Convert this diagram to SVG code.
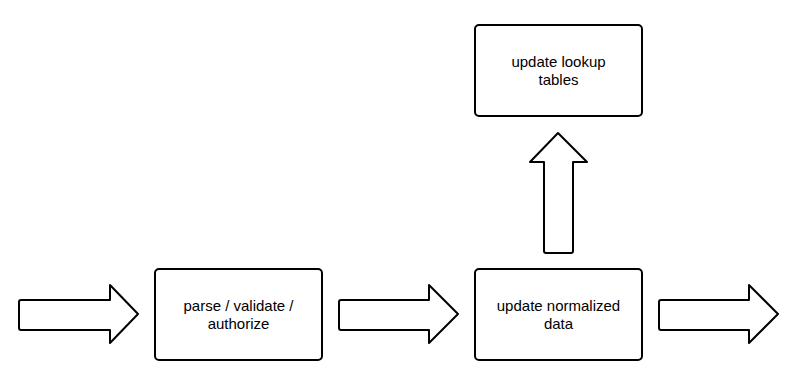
<svg xmlns="http://www.w3.org/2000/svg" width="800" height="381" viewBox="0 0 800 381">
<style>
.box{fill:#fff;stroke:#000;stroke-width:2}
.arr{fill:#fff;stroke:#000;stroke-width:2;stroke-linejoin:round}
.t{font-family:"Liberation Sans",Arial,sans-serif;font-size:15px;fill:#000;text-anchor:middle}
</style>
<rect width="800" height="381" fill="#fff"/>
<g id="connectors">
<path class="arr" d="M21,300 H110 V285 L138,314 L110,343 V330 H21 Q19,330 19,328 V302 Q19,300 21,300 Z"/>
<path class="arr" d="M341,300 H429 V285 L458,314 L429,343 V330 H341 Q339,330 339,328 V302 Q339,300 341,300 Z"/>
<path class="arr" d="M661,300 H749 V285 L778,314 L749,343 V330 H661 Q659,330 659,328 V302 Q659,300 661,300 Z"/>
<path class="arr" d="M544,251 V162 H530 L558,133 L587,162 H573 V251 Q573,253 571,253 H546 Q544,253 544,251 Z"/>
</g>
<g id="parse">
<rect class="box" x="155" y="269" width="167" height="91" rx="4"/>
<text class="t" x="238.5" y="311">parse / validate /</text>
<text class="t" x="238.5" y="329">authorize</text>
</g>
<g id="normalized">
<rect class="box" x="475" y="269" width="167" height="91" rx="4"/>
<text class="t" x="558.5" y="311">update normalized</text>
<text class="t" x="558.5" y="329">data</text>
</g>
<g id="lookup">
<rect class="box" x="475" y="25" width="167" height="91" rx="4"/>
<text class="t" x="558.5" y="67">update lookup</text>
<text class="t" x="558.5" y="85">tables</text>
</g>
</svg>
